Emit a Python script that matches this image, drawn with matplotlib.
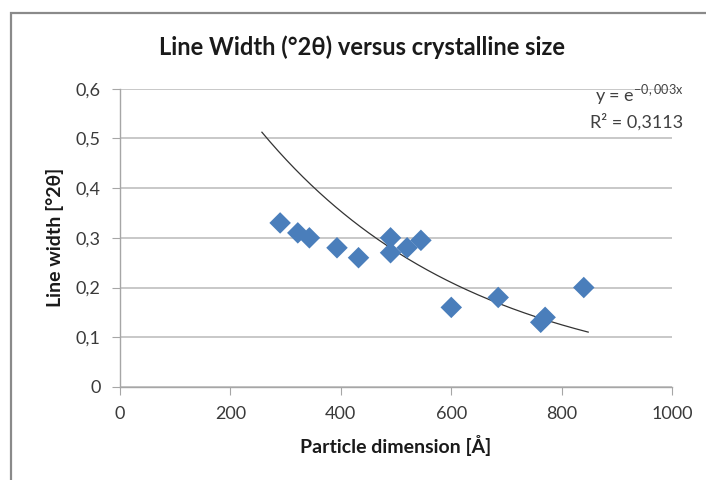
import numpy as np
import matplotlib
matplotlib.use("Agg")
import matplotlib.pyplot as plt
from matplotlib.patches import Rectangle

# particle dimension [Å] and line width [°2θ]
size_A = [290, 322, 343, 393, 432, 490, 490, 520, 545, 600, 685, 762, 770, 840]
width_2theta = [0.33, 0.31, 0.30, 0.28, 0.26, 0.30, 0.27, 0.28, 0.295, 0.16, 0.18, 0.13, 0.14, 0.20]

x_ticks = [0, 200, 400, 600, 800, 1000]
y_ticks = [0, 0.1, 0.2, 0.3, 0.4, 0.5, 0.6]

plt.rcParams['font.family'] = ['Lato', 'DejaVu Sans']

x = np.array(size_A, dtype=float)
y = np.array(width_2theta, dtype=float)

# exponential trendline with intercept set to 1 (y = e^(b x)), as Excel does
b = np.sum(x * np.log(y)) / np.sum(x * x)
xt = np.linspace(x.min() - 33, x.max() + 8, 200)
yt = np.exp(b * xt)

fig = plt.figure(figsize=(7.06, 4.80), dpi=100)
ax = fig.add_axes([0.170, 0.194, 0.782, 0.621])

# chart border
fig.patches.append(Rectangle((11 / 706, -0.01), 1.0, 1 - 13 / 480 + 0.01,
                             transform=fig.transFigure, fill=False,
                             edgecolor='#8a8a8a', linewidth=1.6))

ax.grid(axis='y', color='#bfbfbf', linewidth=1.2)
ax.set_axisbelow(True)

ax.plot(xt, yt, color='#333333', linewidth=0.9, zorder=2)
ax.scatter(x, y, marker='D', s=120, color='#4a7ebb', edgecolors='none', zorder=3)

ax.set_xlim(0, 1000)
ax.set_ylim(0, 0.6)
ax.set_xticks(x_ticks)
ax.set_yticks(y_ticks)
ax.set_xticklabels([str(t) for t in x_ticks])
ax.set_yticklabels(['0' if t == 0 else ('%.1f' % t).replace('.', ',') for t in y_ticks])

for side in ['top', 'right']:
    ax.spines[side].set_visible(False)
for side in ['left', 'bottom']:
    ax.spines[side].set_color('#a6a6a6')
    ax.spines[side].set_linewidth(1.0)
ax.tick_params(direction='out', length=6, color='#a6a6a6', labelsize=13,
               labelcolor='#3a3a3a', pad=8)

ax.set_xlabel('Particle dimension [Å]', fontsize=14, fontweight='bold', labelpad=9,
              color='#1a1a1a')
ax.set_ylabel('Line width [°2θ]', fontsize=14, fontweight='bold', labelpad=8,
              color='#1a1a1a')

fig.text(0.513, 0.902, 'Line Width (°2θ) versus crystalline size',
         ha='center', va='center', fontsize=17, fontweight='bold', color='#1a1a1a')

ax.text(0.94, 0.982, r'y = e$^{\mathregular{-0,003x}}$', transform=ax.transAxes,
        ha='center', va='center', fontsize=13, color='#404040')
ax.text(0.935, 0.89, 'R² = 0,3113', transform=ax.transAxes,
        ha='center', va='center', fontsize=13, color='#404040')

fig.savefig('out.png', dpi=100)
